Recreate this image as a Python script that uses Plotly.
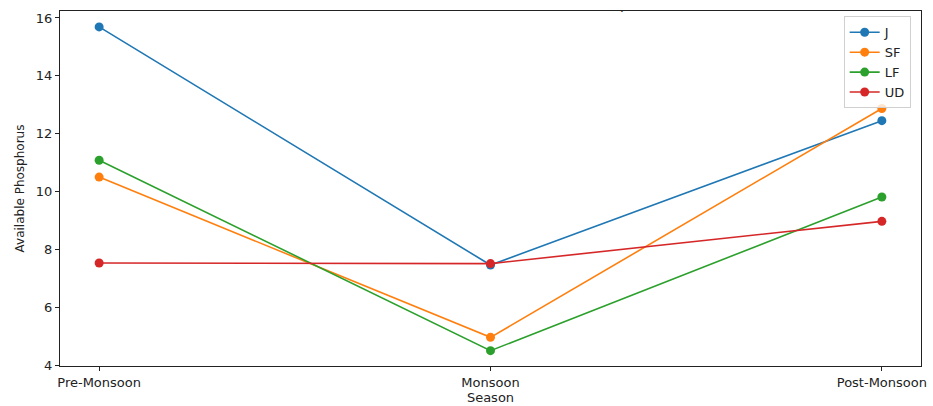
import plotly.graph_objects as go

seasons = ["Pre-Monsoon", "Monsoon", "Post-Monsoon"]
series_names = ["J", "SF", "LF", "UD"]
j_vals = [15.69, 7.46, 12.45]
sf_vals = [10.50, 4.96, 12.87]
lf_vals = [11.08, 4.50, 9.81]
ud_vals = [7.53, 7.51, 8.97]
y_ticks = [4, 6, 8, 10, 12, 14, 16]

colors = ["#1f77b4", "#ff7f0e", "#2ca02c", "#d62728"]
values = [j_vals, sf_vals, lf_vals, ud_vals]

fig = go.Figure()
for name, vals, col in zip(series_names, values, colors):
    fig.add_trace(go.Scatter(
        x=[0, 1, 2], y=vals, name=name, mode="lines+markers",
        line=dict(color=col, width=1.6),
        marker=dict(color=col, size=9),
    ))

axis_common = dict(
    showline=True, linecolor="#222", linewidth=1, mirror=True,
    ticks="outside", ticklen=4, tickcolor="#222", showgrid=False,
    zeroline=False, automargin=False,
    tickfont=dict(family="DejaVu Sans", size=13, color="#222"),
)

fig.update_layout(
    width=933, height=406,
    margin=dict(l=60, r=12, t=11, b=40),
    paper_bgcolor="white", plot_bgcolor="white",
    font=dict(family="DejaVu Sans", size=13, color="#222"),
    xaxis=dict(
        tickvals=[0, 1, 2], ticktext=seasons, range=[-0.1, 2.1],
        title=dict(text="Season", font=dict(size=13), standoff=2),
        **axis_common,
    ),
    yaxis=dict(
        tickvals=y_ticks, range=[3.97, 16.24],
        title=dict(text="Available Phosphorus", font=dict(size=12), standoff=8),
        **axis_common,
    ),
    legend=dict(
        x=0.988, y=0.985, xanchor="right", yanchor="top",
        bordercolor="#d0d0d0", borderwidth=1, bgcolor="rgba(255,255,255,0.8)",
        font=dict(size=13), tracegroupgap=0, itemwidth=30,
    ),
    showlegend=True,
    annotations=[dict(
        text=".", x=0.653, y=1.0, xref="paper", yref="paper",
        xanchor="center", yanchor="bottom", yshift=-6, showarrow=False,
        font=dict(size=12, color="#222"),
    )],
)

fig.write_html("out.html")
